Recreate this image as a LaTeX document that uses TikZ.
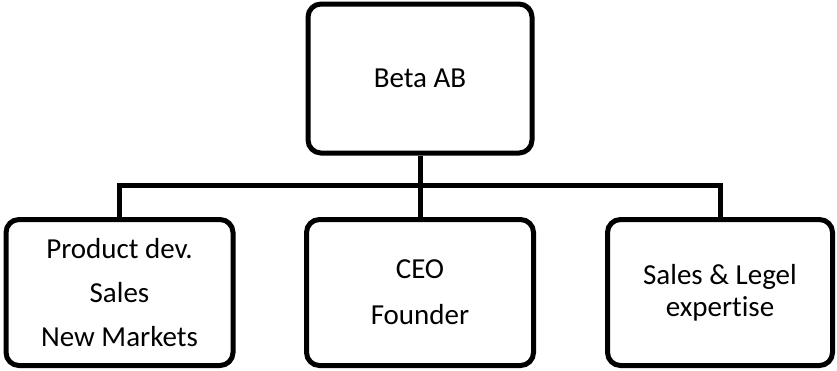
\documentclass[tikz,border=0pt]{standalone}
\usepackage{fontspec}
\setmainfont{Carlito}[Ligatures=NoCommon]
\begin{document}
\begin{tikzpicture}[x=1pt,y=-1pt,
  box/.style={draw=black, line width=5pt, rounded corners=13pt, fill=white,
    align=center, inner sep=0pt, font=\fontsize{29}{44}\selectfont},
  link/.style={draw=black, line width=5pt, line join=miter}]
\useasboundingbox (0,0) rectangle (837,370);
\node[box, minimum width=224pt, minimum height=149pt] (top) at (420,78.5) {Beta AB};
\node[box, minimum width=227pt, minimum height=146pt] (left) at (119.5,292.5) {Product dev.\\Sales\\New Markets};
\node[box, minimum width=227pt, minimum height=146pt, font=\fontsize{29}{46}\selectfont] (mid) at (420,292.5) {CEO\\Founder};
\node[box, minimum width=225pt, minimum height=146pt, font=\fontsize{29}{32}\selectfont] (right) at (720,292.5) {Sales \& Legel\\expertise};
\coordinate (bus) at (420,185);
\draw[link] (top.south) -- (top.south |- bus);
\draw[link] (left.north) -- (left.north |- bus) -- (right.north |- bus) -- (right.north);
\draw[link] (top.south |- bus) -- (mid.north);
\end{tikzpicture}
\end{document}
